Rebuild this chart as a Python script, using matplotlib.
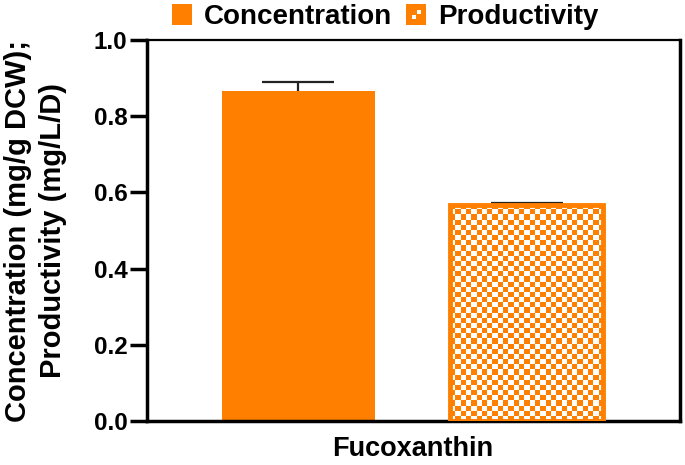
import numpy as np
import matplotlib
matplotlib.use("Agg")
import matplotlib.pyplot as plt
from matplotlib.patches import Rectangle, Patch
from matplotlib.legend_handler import HandlerBase
from matplotlib.colors import ListedColormap

plt.rcParams['font.family'] = ['Liberation Sans', 'DejaVu Sans']
plt.rcParams['font.weight'] = 'bold'

# ---- data ----
series = ["Concentration", "Productivity"]
values = [0.866, 0.568]
errors = [0.024, 0.005]
category = "Fucoxanthin"
yticks = [0.0, 0.2, 0.4, 0.6, 0.8, 1.0]
ylabel = "Concentration (mg/g DCW);\nProductivity (mg/L/D)"

ORANGE = "#FF8000"

fig = plt.figure(figsize=(6.85, 4.65), dpi=100)
ax = fig.add_axes([147/685, 1-421/465, (680-147)/685, (421-40)/465])

xpos = [0, 1]
width = 0.671
XLIM = (-0.664, 1.673)
ax.set_xlim(*XLIM)
ax.set_ylim(0, 1.0)

# solid bar
ax.bar(xpos[0], values[0], width=width, color=ORANGE, edgecolor=ORANGE, linewidth=0, zorder=2)

# checkered bar: white base, checker image clipped to bar, orange border
b2 = ax.bar(xpos[1], values[1], width=width, facecolor="white", edgecolor="none", zorder=2)[0]
fig.canvas.draw()
p0 = ax.transData.transform((xpos[1]-width/2, 0))
p1 = ax.transData.transform((xpos[1]+width/2, values[1]))
cell = 5.2
nx = max(1, int(round((p1[0]-p0[0])/cell)))
ny = max(1, int(round((p1[1]-p0[1])/cell)))
ii, jj = np.indices((ny, nx))
chk = ((ii + jj) % 2).astype(float)
cmap = ListedColormap(["white", ORANGE])
im = ax.imshow(chk, extent=(xpos[1]-width/2, xpos[1]+width/2, 0, values[1]),
               cmap=cmap, vmin=0, vmax=1, interpolation='nearest', aspect='auto',
               origin='lower', zorder=2.5)
im.set_clip_path(b2)
ax.bar(xpos[1], values[1], width=width, facecolor="none", edgecolor=ORANGE,
       linewidth=3.5, zorder=3)
ax.set_aspect('auto')
ax.set_xlim(*XLIM)
ax.set_ylim(0, 1.0)

# error bars (lower half hidden behind bars)
ax.errorbar(xpos, values, yerr=errors, fmt='none', ecolor='#222222',
            elinewidth=1.6, capsize=26, capthick=1.6, zorder=1.5)

# axes styling
for s in ax.spines.values():
    s.set_linewidth(2.5)
ax.spines['top'].set_linewidth(1.6)
ax.set_yticks(yticks)
ax.set_yticklabels([f"{v:.1f}" for v in yticks], fontsize=17.5, fontweight='bold')
ax.tick_params(axis='y', length=12, width=2.5, pad=2)
ax.set_xticks([0.5])
ax.set_xticklabels([category], fontsize=19.5, fontweight='bold')
ax.tick_params(axis='x', length=0, pad=11)
ax.set_ylabel(ylabel, fontsize=21, fontweight='bold', linespacing=1.35, labelpad=19)

# legend
class CheckerHandler(HandlerBase):
    def create_artists(self, legend, orig_handle, xdescent, ydescent, width, height, fontsize, trans):
        w = min(width, height)
        x0 = -xdescent + (width - w) / 2
        y0 = -ydescent
        r = Rectangle((x0, y0), w, w, facecolor=ORANGE, edgecolor='none', transform=trans)
        s = w * 0.2
        a = Rectangle((x0 + w*0.55, y0 + w*0.5), s, s, facecolor='white', edgecolor='none', transform=trans)
        b = Rectangle((x0 + w*0.3, y0 + w*0.25), s, s, facecolor='white', edgecolor='none', transform=trans)
        return [r, a, b]

class SolidHandler(HandlerBase):
    def create_artists(self, legend, orig_handle, xdescent, ydescent, width, height, fontsize, trans):
        w = min(width, height)
        x0 = -xdescent + (width - w) / 2
        return [Rectangle((x0, -ydescent), w, w, facecolor=ORANGE, edgecolor='none', transform=trans)]

h1 = Patch(facecolor=ORANGE)
h2 = Patch(facecolor='white')
leg = fig.legend([h1, h2], series, loc='upper center', bbox_to_anchor=(0.562, 1.045),
                 ncol=2, frameon=False, prop={'size': 20, 'weight': 'bold'},
                 handlelength=0.75, handleheight=0.75, handletextpad=0.4, columnspacing=0.5,
                 handler_map={h1: SolidHandler(), h2: CheckerHandler()})

fig.savefig("out.png", dpi=100)
